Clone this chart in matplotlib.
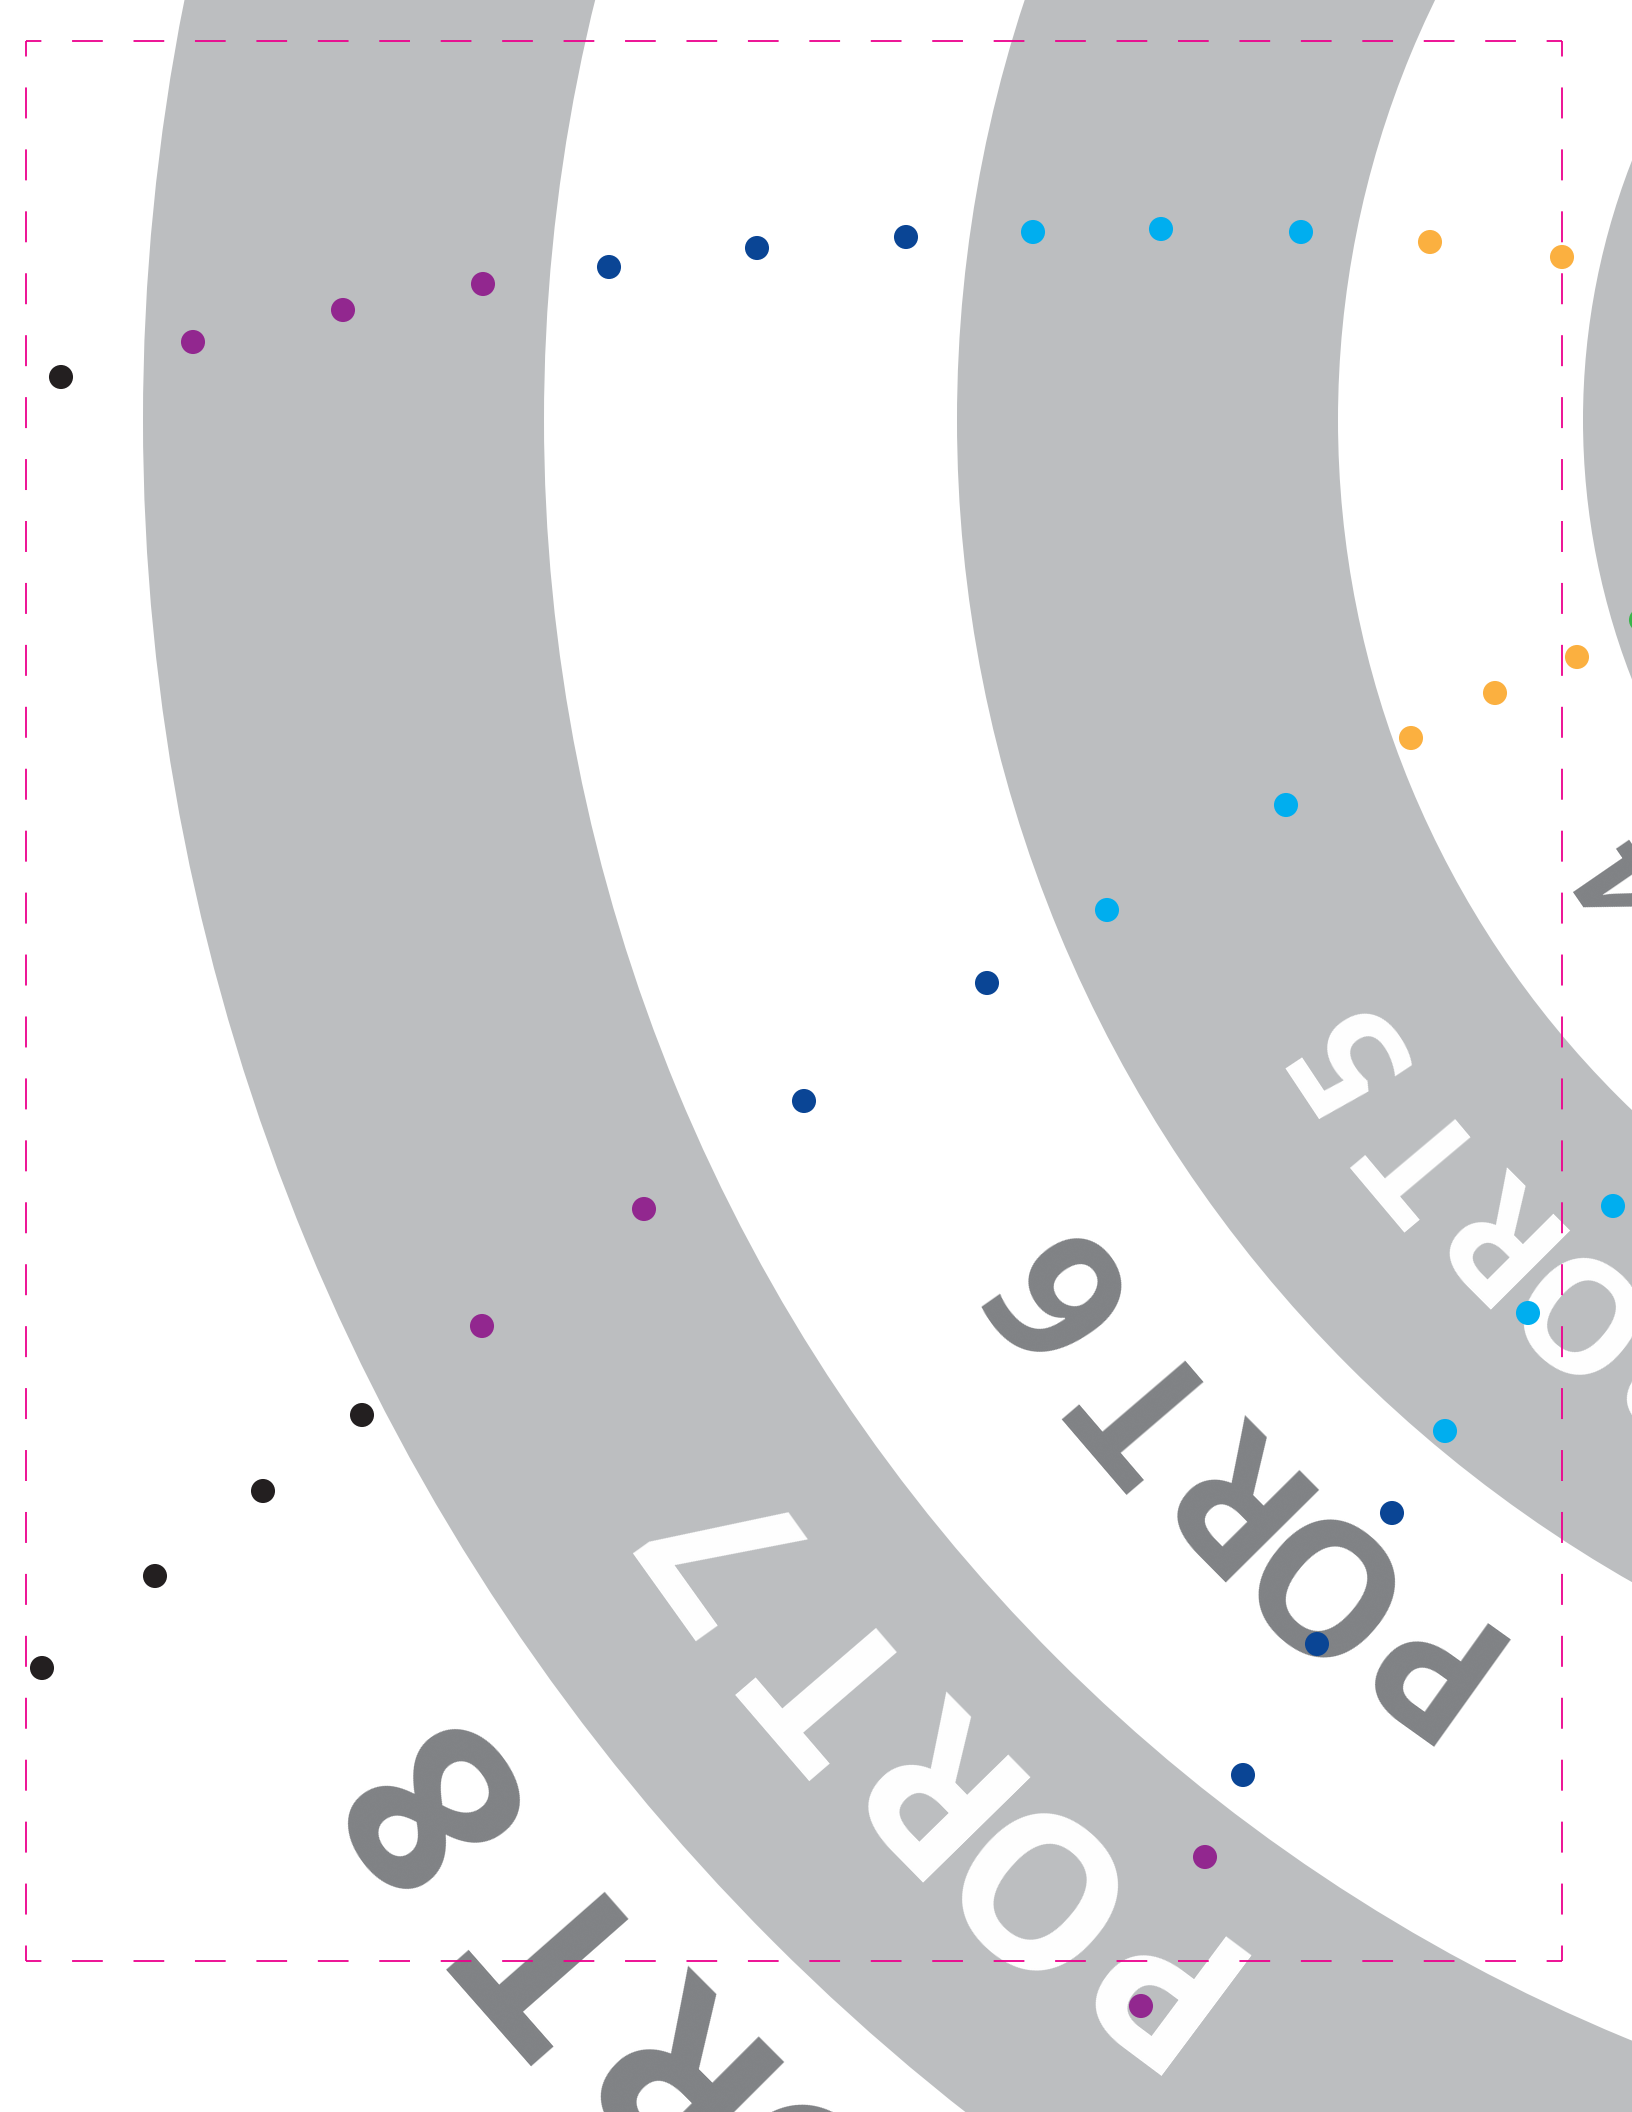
import numpy as np
import matplotlib.pyplot as plt
from matplotlib.patches import Wedge
from matplotlib.font_manager import FontProperties

plt.rcParams["lines.scale_dashes"] = False

W, H = 1632, 2112
CX, CY = 2295, 420  # common centre of the rings (off the page, right)

RING_GRAY = "#BCBEC0"
TEXT_GRAY = "#808285"
FRAME_COLOR = "#EC008C"

# gray bands (outer, inner radius)
ring_outer = [712, 1338, 2152]
ring_inner = [450, 957, 1751]

# port labels along the bands
label_text = ["PORT 4", "PORT 5", "PORT 6", "PORT 7", "PORT 8"]
label_radius = [815, 1150, 1522, 1940, 2328]
label_size = [95, 113, 133, 152, 172]
label_angle = [131.9, 135.0, 135.2, 135.5, 135.0]
label_track = [1.0, 1.0, 0.965, 0.98, 1.0]
label_color = [TEXT_GRAY, "white", TEXT_GRAY, "white", TEXT_GRAY]

# dots, upper arc
top_x = [61, 193, 343, 483, 609, 757, 906, 1033, 1161, 1301, 1430, 1562]
top_y = [377, 342, 310, 284, 267, 248, 237, 232, 229, 232, 242, 257]
top_c = ["#231F20", "#92278F", "#92278F", "#92278F", "#0A4595", "#0A4595",
         "#0A4595", "#00AEEF", "#00AEEF", "#00AEEF", "#FBB040", "#FBB040"]

# dots, middle arc
mid_x = [1641, 1577, 1495, 1411, 1286, 1107, 987, 804, 644, 482, 362, 263, 155, 42]
mid_y = [620, 657, 693, 738, 805, 910, 983, 1101, 1209, 1326, 1415, 1491, 1576, 1668]
mid_c = ["#39B54A", "#FBB040", "#FBB040", "#FBB040", "#00AEEF", "#00AEEF",
         "#0A4595", "#0A4595", "#92278F", "#92278F", "#231F20", "#231F20",
         "#231F20", "#231F20"]

# dots, lower arc
low_x = [1613, 1528, 1445, 1392, 1317, 1243, 1205, 1141]
low_y = [1206, 1313, 1431, 1513, 1644, 1775, 1857, 2006]
low_c = ["#00AEEF", "#00AEEF", "#00AEEF", "#0A4595", "#0A4595", "#0A4595",
         "#92278F", "#92278F"]

# crop frame
FRAME_LEFT, FRAME_TOP, FRAME_RIGHT, FRAME_BOTTOM = 26, 41, 1562, 1961
DASH_PERIOD = 62  # px

fig = plt.figure(figsize=(W / 100, H / 100), dpi=100)
ax = fig.add_axes([0, 0, 1, 1])
ax.set_xlim(0, W)
ax.set_ylim(H, 0)
ax.axis("off")

for r_out, r_in in zip(ring_outer, ring_inner):
    ax.add_patch(Wedge((CX, CY), r_out, 0, 360, width=r_out - r_in,
                       facecolor=RING_GRAY, edgecolor="none", zorder=1))

renderer = fig.canvas.get_renderer()


def text_size(s, prop):
    w, h, d = renderer.get_text_width_height_descent(s, prop, ismath=False)
    return w, h


# each label is set letter by letter along its arc, tops pointing outward
for text, r, size, ang, track, col in zip(label_text, label_radius, label_size,
                                          label_angle, label_track, label_color):
    prop = FontProperties(family="Open Sans", weight="bold", size=size)
    total, _ = text_size(text, prop)
    _, cap = text_size("T", prop)
    r_base = r - cap / 2
    for i, ch in enumerate(text):
        if ch == " ":
            continue
        right, _ = text_size(text[: i + 1], prop)
        w_ch, _ = text_size(ch, prop)
        s = (right - w_ch / 2 - total / 2) * track
        th = np.radians(ang) + s / r
        ax.text(CX + r_base * np.cos(th), CY + r_base * np.sin(th), ch,
                fontproperties=prop, color=col,
                rotation=270 - np.degrees(th), rotation_mode="anchor",
                ha="center", va="baseline", zorder=2)

for xs, ys, cs in [(top_x, top_y, top_c), (mid_x, mid_y, mid_c),
                   (low_x, low_y, low_c)]:
    ax.scatter(xs, ys, s=300, c=cs, linewidths=0, zorder=3)

# dashed frame, each side starts and ends with a half dash
corners = [(FRAME_LEFT, FRAME_TOP), (FRAME_RIGHT, FRAME_TOP),
           (FRAME_RIGHT, FRAME_BOTTOM), (FRAME_LEFT, FRAME_BOTTOM)]
for k in range(4):
    (x0, y0), (x1, y1) = corners[k], corners[(k + 1) % 4]
    length = np.hypot(x1 - x0, y1 - y0)
    period = length / round(length / DASH_PERIOD)
    dash = period / 2 * 0.72
    ax.plot([x0, x1], [y0, y1], color=FRAME_COLOR, lw=1.3,
            linestyle=(dash / 2, (dash, dash)), solid_capstyle="butt",
            dash_capstyle="butt", zorder=4)

fig.savefig("out.png", dpi=100)
